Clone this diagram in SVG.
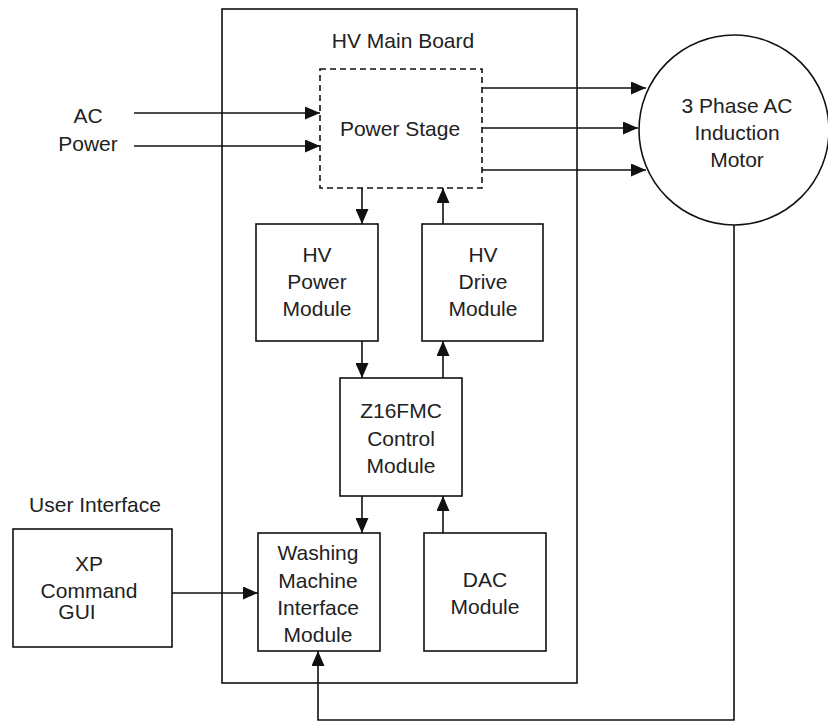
<svg xmlns="http://www.w3.org/2000/svg" width="828" height="723" viewBox="0 0 828 723">
<style>
text{font-family:"Liberation Sans",Arial,sans-serif;font-size:21px;fill:#222;text-anchor:middle}
.box{fill:#fff;stroke:#111;stroke-width:1.6}
.dash{fill:#fff;stroke:#111;stroke-width:1.6;stroke-dasharray:6,4}
.ln{fill:none;stroke:#111;stroke-width:1.6}
</style>
<defs>
<marker id="ah" markerUnits="userSpaceOnUse" markerWidth="15" markerHeight="13" refX="15" refY="6.5" orient="auto">
<path d="M0,0 L15,6.5 L0,13 Z" fill="#111"/>
</marker>
</defs>
<rect width="828" height="723" fill="#fff"/>
<g id="main-board">
<rect class="box" x="222" y="9" width="355" height="674" fill="none"/>
<text x="403" y="48">HV Main Board</text>
</g>
<g id="ac-power">
<text x="88" y="123">AC</text>
<text x="88" y="151">Power</text>
</g>
<g id="connectors">
<line class="ln" x1="134" y1="113" x2="320" y2="113" marker-end="url(#ah)"/>
<line class="ln" x1="134" y1="146" x2="320" y2="146" marker-end="url(#ah)"/>
<line class="ln" x1="482" y1="88" x2="646" y2="88" marker-end="url(#ah)"/>
<line class="ln" x1="482" y1="128" x2="638" y2="128" marker-end="url(#ah)"/>
<line class="ln" x1="482" y1="170" x2="646" y2="170" marker-end="url(#ah)"/>
<line class="ln" x1="362" y1="188" x2="362" y2="224" marker-end="url(#ah)"/>
<line class="ln" x1="443" y1="224" x2="443" y2="188" marker-end="url(#ah)"/>
<line class="ln" x1="362" y1="341" x2="362" y2="378" marker-end="url(#ah)"/>
<line class="ln" x1="443" y1="378" x2="443" y2="341" marker-end="url(#ah)"/>
<line class="ln" x1="362" y1="496" x2="362" y2="533" marker-end="url(#ah)"/>
<line class="ln" x1="443" y1="533" x2="443" y2="496" marker-end="url(#ah)"/>
<line class="ln" x1="172" y1="593" x2="258" y2="593" marker-end="url(#ah)"/>
<polyline class="ln" points="734,225 734,720 318,720 318,651" marker-end="url(#ah)"/>
</g>
<g id="power-stage">
<rect class="dash" x="320" y="69" width="162" height="119"/>
<text x="400" y="136">Power Stage</text>
</g>
<g id="motor">
<circle cx="734" cy="130" r="95" fill="#fff" stroke="#111" stroke-width="1.6"/>
<text x="737" y="113">3 Phase AC</text>
<text x="737" y="140">Induction</text>
<text x="737" y="167">Motor</text>
</g>
<g id="hv-power-module">
<rect class="box" x="256" y="224" width="122" height="117"/>
<text x="317" y="262">HV</text>
<text x="317" y="289">Power</text>
<text x="317" y="316">Module</text>
</g>
<g id="hv-drive-module">
<rect class="box" x="422" y="224" width="121" height="117"/>
<text x="483" y="262">HV</text>
<text x="483" y="289">Drive</text>
<text x="483" y="316">Module</text>
</g>
<g id="control-module">
<rect class="box" x="340" y="378" width="122" height="118"/>
<text x="401" y="418">Z16FMC</text>
<text x="401" y="446">Control</text>
<text x="401" y="473">Module</text>
</g>
<g id="washing-module">
<rect class="box" x="258" y="533" width="122" height="118"/>
<text x="318" y="560">Washing</text>
<text x="318" y="588">Machine</text>
<text x="318" y="615">Interface</text>
<text x="318" y="642">Module</text>
</g>
<g id="dac-module">
<rect class="box" x="424" y="533" width="122" height="118"/>
<text x="485" y="587">DAC</text>
<text x="485" y="614">Module</text>
</g>
<g id="user-interface">
<text x="95" y="512">User Interface</text>
<rect class="box" x="13" y="529" width="159" height="118"/>
<text x="89" y="571">XP</text>
<text x="89" y="598">Command</text>
<text x="77" y="619">GUI</text>
</g>
</svg>
